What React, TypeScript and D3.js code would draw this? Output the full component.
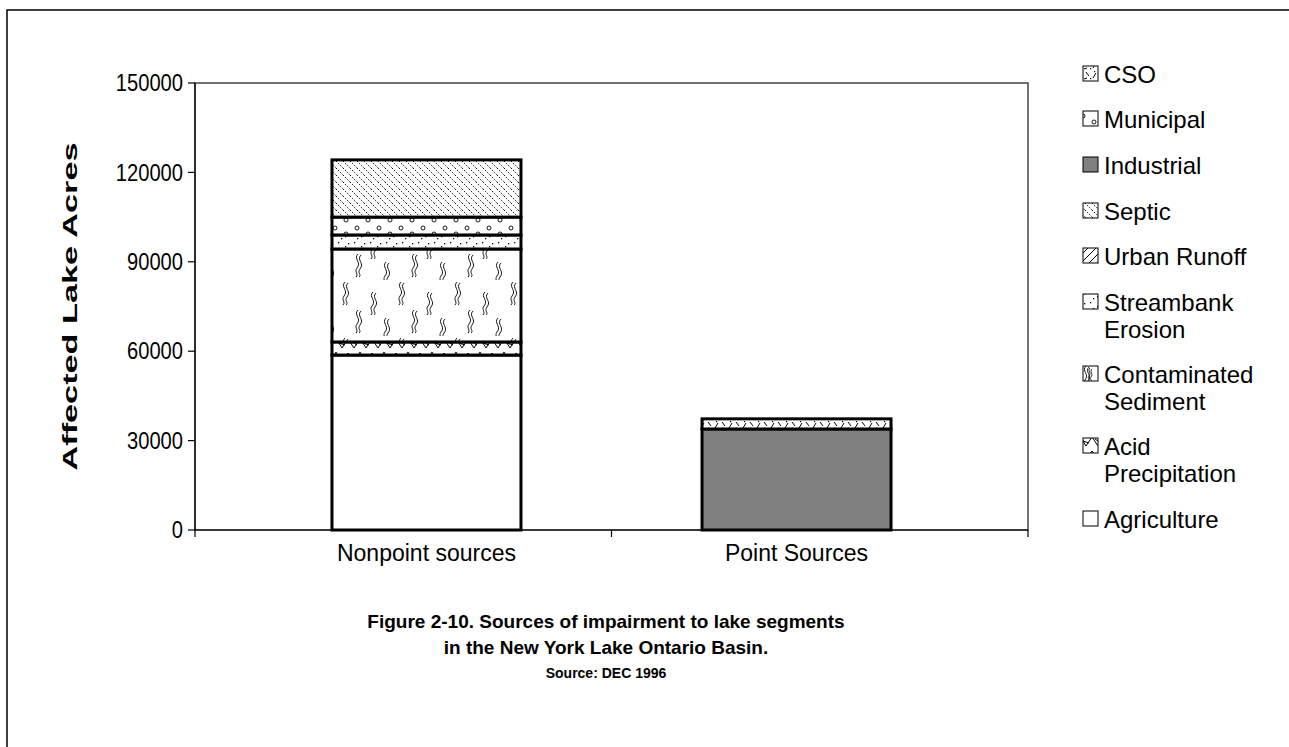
import React from 'react';
import * as d3 from 'd3';

const categories = ['Nonpoint sources', 'Point Sources'];
// stack order from bottom to top
const seriesKeys = [
  'Agriculture',
  'Acid Precipitation',
  'Contaminated Sediment',
  'Streambank Erosion',
  'Urban Runoff',
  'Municipal',
  'Septic',
  'Industrial',
  'CSO',
];
const nonpointValues = [58700, 4400, 31200, 4700, 0, 6000, 19200, 0, 0];
const pointValues = [0, 0, 0, 0, 0, 0, 0, 33900, 3400];
const legendKeys = ['CSO', 'Municipal', 'Industrial', 'Septic', 'Urban Runoff', 'Streambank Erosion', 'Contaminated Sediment', 'Acid Precipitation', 'Agriculture'];
const legendLines = [
  ['CSO'],
  ['Municipal'],
  ['Industrial'],
  ['Septic'],
  ['Urban Runoff'],
  ['Streambank', 'Erosion'],
  ['Contaminated', 'Sediment'],
  ['Acid', 'Precipitation'],
  ['Agriculture'],
];
const yTicks = [0, 30000, 60000, 90000, 120000, 150000];

const fillFor = {
  'Agriculture': '#ffffff',
  'Acid Precipitation': 'url(#p-acid)',
  'Contaminated Sediment': 'url(#p-sed)',
  'Streambank Erosion': 'url(#p-stream)',
  'Urban Runoff': 'url(#p-urban)',
  'Municipal': 'url(#p-muni)',
  'Septic': 'url(#p-septic)',
  'Industrial': '#808080',
  'CSO': 'url(#p-cso)',
};

const font = 'Arial, "Liberation Sans", sans-serif';

export default function App() {
  const left = 195, right = 1028, top = 83, bottom = 530;

  const rows = categories.map((c, i) => {
    const vals = i === 0 ? nonpointValues : pointValues;
    const r: any = { cat: c };
    seriesKeys.forEach((k, j) => (r[k] = vals[j]));
    return r;
  });
  const stacked = d3.stack().keys(seriesKeys)(rows);

  const x = d3.scalePoint().domain(categories).range([left, right]).padding(0.6255);
  const barW = 189;
  const y = d3.scaleLinear().domain([0, 150000]).range([bottom, top]);

  const step = x.step();
  const catTicks = [left, (x(categories[0]) as number) + step / 2, right];

  const squiggle = (cx, cy) =>
    `M${cx},${cy} c-5,5 4,8 -1,14 c-3,4 2,6 -1,9 M${cx + 3},${cy + 1} c-5,5 4,8 -1,14 c-3,4 2,6 -1,8`;

  const legendRowY = [74, 119, 165, 211, 256, 302, 374, 446, 519];
  const swX = 1083;

  return (
    <svg width={1289} height={747} style={{ position: 'absolute', left: 0, top: 0 }}>
      <defs>
        <pattern id="p-acid" width="24" height="14" patternUnits="userSpaceOnUse">
          <rect width="24" height="14" fill="#fff" />
          <path d="M0,2 L6,12 L12,3 L18,12 L24,2" fill="none" stroke="#000" strokeWidth="1" />
          <path d="M3,7 L9,9 M15,5 L21,9" fill="none" stroke="#000" strokeWidth="1" />
        </pattern>
        <pattern id="p-sed" width="56" height="56" patternUnits="userSpaceOnUse">
          <rect width="56" height="56" fill="#fff" />
          <path
            d={squiggle(9, 2) + ' ' + squiggle(37, 12) + ' ' + squiggle(22, 30) + ' ' + squiggle(50, 38)}
            fill="none"
            stroke="#000"
            strokeWidth="0.9"
          />
        </pattern>
        <pattern id="p-stream" width="16" height="10" patternUnits="userSpaceOnUse">
          <rect width="16" height="10" fill="#fff" />
          <rect x="2" y="2" width="1.3" height="1.3" fill="#000" />
          <rect x="9" y="6" width="1.3" height="1.3" fill="#000" />
          <rect x="12" y="3" width="1.3" height="1.3" fill="#000" />
          <rect x="5" y="8" width="1.3" height="1.3" fill="#000" />
        </pattern>
        <pattern id="p-urban" width="8" height="8" patternUnits="userSpaceOnUse">
          <rect width="8" height="8" fill="#fff" />
          <path d="M0,8 L8,0 M-2,2 L2,-2 M6,10 L10,6" stroke="#000" strokeWidth="1" />
        </pattern>
        <pattern id="p-muni" width="22" height="14" patternUnits="userSpaceOnUse">
          <rect width="22" height="14" fill="#fff" />
          <circle cx="5" cy="4" r="2" fill="none" stroke="#000" strokeWidth="0.9" />
          <circle cx="16" cy="10" r="2" fill="none" stroke="#000" strokeWidth="0.9" />
        </pattern>
        <pattern id="p-septic" width="7" height="7" patternUnits="userSpaceOnUse">
          <rect width="7" height="7" fill="#fff" />
          <path d="M0,0 L7,7 M-7,0 L0,7 M7,0 L14,7" stroke="#000" strokeWidth="0.9" strokeDasharray="1.5,1.5" />
        </pattern>
        <pattern id="p-cso" width="14" height="10" patternUnits="userSpaceOnUse">
          <rect width="14" height="10" fill="#fff" />
          <path d="M1,8 L4,3 M8,2 L11,6 M6,9 L9,8" stroke="#000" strokeWidth="1" />
          <rect x="2" y="1" width="1.2" height="1.2" fill="#000" />
          <rect x="12" y="8" width="1.2" height="1.2" fill="#000" />
        </pattern>
      </defs>

      <rect x={7} y={10} width={1300} height={760} fill="#fff" stroke="#000" strokeWidth={1.5} />

      <rect x={left} y={top} width={right - left} height={bottom - top} fill="#fff" stroke="#444" strokeWidth={1.5} />

      {stacked.map(layer => (
        <g key={layer.key}>
          {layer.map((d, i) => {
            if (d[1] - d[0] <= 0) return null;
            const cx = x(categories[i]) as number;
            return (
              <rect
                key={i}
                x={cx - barW / 2}
                y={y(d[1])}
                width={barW}
                height={y(d[0]) - y(d[1])}
                fill={fillFor[layer.key]}
                stroke="#000"
                strokeWidth={3}
              />
            );
          })}
        </g>
      ))}

      {/* y axis */}
      <line x1={left} x2={left} y1={top} y2={bottom} stroke="#000" strokeWidth={1.2} />
      {yTicks.map(t => {
        const s = String(t);
        return (
          <g key={t}>
            <line x1={left - 7} x2={left} y1={y(t)} y2={y(t)} stroke="#000" strokeWidth={1.2} />
            <text
              x={left - 12}
              y={y(t)}
              dy="0.36em"
              textAnchor="end"
              fontFamily={font}
              fontSize={23}
              textLength={s.length * 11.2}
              lengthAdjust="spacingAndGlyphs"
            >
              {s}
            </text>
          </g>
        );
      })}

      {/* x axis */}
      <line x1={left} x2={right} y1={bottom} y2={bottom} stroke="#000" strokeWidth={1.2} />
      {catTicks.map((t, i) => (
        <line key={i} x1={t} x2={t} y1={bottom} y2={bottom + 7} stroke="#000" strokeWidth={1.2} />
      ))}
      {categories.map(c => (
        <text key={c} x={x(c)} y={553} dy="0.36em" textAnchor="middle" fontFamily={font} fontSize={23}>
          {c}
        </text>
      ))}

      <text
        transform={`translate(69,${(top + bottom) / 2}) rotate(-90)`}
        textAnchor="middle"
        fontFamily={font}
        fontSize={21}
        fontWeight="bold"
        dy="0.36em"
        textLength={328}
        lengthAdjust="spacingAndGlyphs"
      >
        Affected Lake Acres
      </text>

      {/* legend */}
      {legendLines.map((lines, i) => {
        const rowY = legendRowY[i];
        const key = legendKeys[i];
        return (
          <g key={i}>
            <rect x={swX} y={rowY - 8} width={15} height={15} fill={fillFor[key]} stroke="#000" strokeWidth={1} />
            {key === 'Contaminated Sediment' && (
              <path
                d={`M${swX + 7},${rowY - 6} c-3,3 2,5 -1,8 c-2,2 1,3 0,4 M${swX + 9},${rowY - 5} c-3,3 2,5 -1,8 c-2,2 1,3 0,4`}
                fill="none"
                stroke="#000"
                strokeWidth={0.8}
              />
            )}
            {lines.map((ln, j) => (
              <text key={j} x={1104} y={rowY + j * 27.5} dy="0.36em" fontFamily={font} fontSize={24}>
                {ln}
              </text>
            ))}
          </g>
        );
      })}

      {/* caption */}
      <text x={606} y={621} dy="0.36em" textAnchor="middle" fontFamily={font} fontSize={19} fontWeight="bold">
        Figure 2-10. Sources of impairment to lake segments
      </text>
      <text x={606} y={647} dy="0.36em" textAnchor="middle" fontFamily={font} fontSize={19} fontWeight="bold">
        in the New York Lake Ontario Basin.
      </text>
      <text x={606} y={673} dy="0.36em" textAnchor="middle" fontFamily={font} fontSize={14} fontWeight="bold">
        Source: DEC 1996
      </text>
    </svg>
  );
}
